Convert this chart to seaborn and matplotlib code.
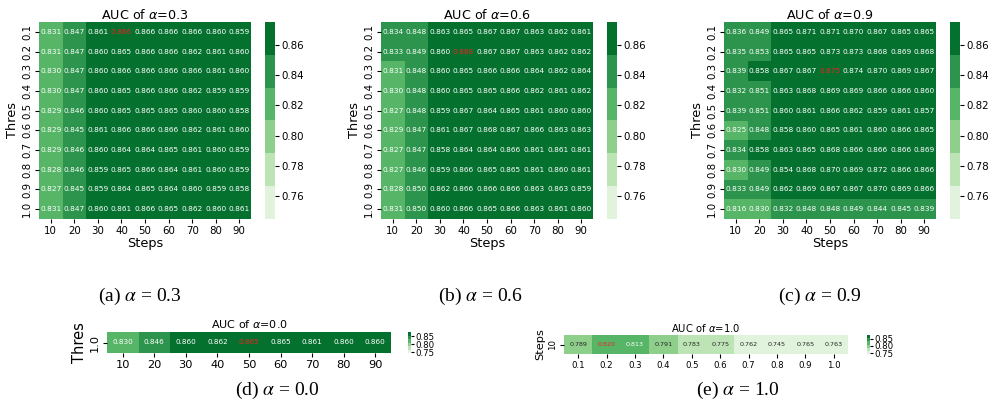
import numpy as np
import matplotlib
matplotlib.use("Agg")
import matplotlib.pyplot as plt
import seaborn as sns

# ---- data -------------------------------------------------------------
steps = [10, 20, 30, 40, 50, 60, 70, 80, 90]
thres = ["0.1", "0.2", "0.3", "0.4", "0.5", "0.6", "0.7", "0.8", "0.9", "1.0"]

auc_a03 = [
    [0.831, 0.847, 0.861, 0.866, 0.866, 0.866, 0.866, 0.860, 0.859],
    [0.831, 0.847, 0.860, 0.865, 0.866, 0.866, 0.862, 0.861, 0.860],
    [0.830, 0.847, 0.860, 0.866, 0.866, 0.866, 0.866, 0.861, 0.860],
    [0.830, 0.847, 0.860, 0.865, 0.866, 0.866, 0.862, 0.859, 0.859],
    [0.829, 0.846, 0.860, 0.865, 0.865, 0.865, 0.860, 0.860, 0.858],
    [0.829, 0.845, 0.861, 0.866, 0.866, 0.866, 0.862, 0.861, 0.860],
    [0.829, 0.846, 0.860, 0.864, 0.864, 0.865, 0.861, 0.860, 0.859],
    [0.828, 0.846, 0.859, 0.865, 0.866, 0.864, 0.861, 0.860, 0.859],
    [0.827, 0.845, 0.859, 0.864, 0.865, 0.864, 0.860, 0.859, 0.858],
    [0.831, 0.847, 0.860, 0.861, 0.866, 0.865, 0.862, 0.860, 0.861],
]

auc_a06 = [
    [0.834, 0.848, 0.863, 0.865, 0.867, 0.867, 0.863, 0.862, 0.861],
    [0.833, 0.849, 0.860, 0.868, 0.867, 0.867, 0.863, 0.862, 0.862],
    [0.831, 0.848, 0.860, 0.865, 0.866, 0.866, 0.864, 0.862, 0.864],
    [0.830, 0.848, 0.860, 0.865, 0.865, 0.866, 0.862, 0.861, 0.862],
    [0.827, 0.848, 0.859, 0.867, 0.864, 0.865, 0.861, 0.860, 0.860],
    [0.829, 0.847, 0.861, 0.867, 0.868, 0.867, 0.866, 0.863, 0.863],
    [0.827, 0.847, 0.858, 0.864, 0.864, 0.866, 0.861, 0.861, 0.861],
    [0.827, 0.846, 0.859, 0.866, 0.865, 0.865, 0.861, 0.860, 0.861],
    [0.828, 0.850, 0.862, 0.866, 0.866, 0.866, 0.863, 0.863, 0.859],
    [0.831, 0.850, 0.860, 0.866, 0.865, 0.866, 0.863, 0.861, 0.860],
]

auc_a09 = [
    [0.836, 0.849, 0.865, 0.871, 0.871, 0.870, 0.867, 0.865, 0.865],
    [0.835, 0.853, 0.865, 0.865, 0.873, 0.873, 0.868, 0.869, 0.868],
    [0.839, 0.858, 0.867, 0.867, 0.875, 0.874, 0.870, 0.869, 0.867],
    [0.832, 0.851, 0.863, 0.868, 0.869, 0.869, 0.866, 0.866, 0.860],
    [0.839, 0.851, 0.860, 0.861, 0.866, 0.862, 0.859, 0.861, 0.857],
    [0.825, 0.848, 0.858, 0.860, 0.865, 0.861, 0.860, 0.866, 0.865],
    [0.834, 0.858, 0.863, 0.865, 0.868, 0.866, 0.866, 0.866, 0.869],
    [0.830, 0.849, 0.854, 0.868, 0.870, 0.869, 0.872, 0.866, 0.866],
    [0.833, 0.849, 0.862, 0.869, 0.867, 0.867, 0.870, 0.869, 0.866],
    [0.816, 0.830, 0.832, 0.848, 0.848, 0.849, 0.844, 0.845, 0.839],
]

auc_a00 = [[0.830, 0.846, 0.860, 0.862, 0.865, 0.865, 0.861, 0.860, 0.860]]
thres_a00 = ["1.0"]

thres_a10 = ["0.1", "0.2", "0.3", "0.4", "0.5", "0.6", "0.7", "0.8", "0.9", "1.0"]
auc_a10 = [[0.789, 0.820, 0.813, 0.791, 0.783, 0.775, 0.762, 0.745, 0.765, 0.763]]
steps_a10 = ["10"]

# ---- shared colour scale ---------------------------------------------
all_vals = np.concatenate([np.ravel(m) for m in
                           (auc_a03, auc_a06, auc_a09, auc_a00, auc_a10)])
VMIN, VMAX = all_vals.min(), all_vals.max()
cmap = matplotlib.colors.ListedColormap(sns.color_palette("Greens", 6))
BEST = "#ee2222"

W, H = 995, 403
fig = plt.figure(figsize=(W / 100, H / 100), dpi=100)


def box(x0, y0, x1, y1):
    return [x0 / W, 1 - y1 / H, (x1 - x0) / W, (y1 - y0) / H]


def panel(hm_box, cb_box, data, xt, yt, title, title_fs, title_pad, annot_fs,
          tick_fs, label_fs, xlabel, ylabel, cb_ticks, cb_fs, cb_len):
    ax = fig.add_axes(box(*hm_box))
    cax = fig.add_axes(box(*cb_box))
    arr = np.asarray(data)
    sns.heatmap(arr, ax=ax, cbar_ax=cax, cmap=cmap, vmin=VMIN, vmax=VMAX,
                annot=True, fmt=".3f", annot_kws={"size": annot_fs},
                xticklabels=xt, yticklabels=yt)
    ax.texts[int(np.argmax(arr))].set_color(BEST)
    ax.set_title(title, fontsize=title_fs, pad=title_pad)
    ax.tick_params(labelsize=tick_fs, length=3, pad=2)
    plt.setp(ax.get_yticklabels(), rotation=90, va="center")
    plt.setp(ax.get_xticklabels(), rotation=0)
    if xlabel:
        ax.set_xlabel(xlabel, fontsize=label_fs, labelpad=1)
    if ylabel:
        ax.set_ylabel(ylabel, fontsize=label_fs, labelpad=2)
    cb = ax.collections[0].colorbar
    cb.set_ticks(cb_ticks)
    cb.ax.tick_params(labelsize=cb_fs, length=cb_len, pad=1.5)
    return ax


big_ticks = [0.76, 0.78, 0.80, 0.82, 0.84, 0.86]
small_ticks = [0.75, 0.80, 0.85]

for x0, data, a in ((39, auc_a03, "0.3"), (381, auc_a06, "0.6"),
                    (724, auc_a09, "0.9")):
    panel((x0, 22, x0 + 212, 219), (x0 + 226, 22, x0 + 236, 219),
          data, steps, thres, f"AUC of $\\alpha$={a}", 9.2, 2.5, 5.3,
          7.4, 9.3, "Steps", "Thres", big_ticks, 7.4, 3)

panel((107, 332, 391, 353), (408, 332, 411, 353), auc_a00, steps, thres_a00,
      "AUC of $\\alpha$=0.0", 8.0, 3, 5.2, 8.2, 10.5, None, "Thres",
      small_ticks, 6.2, 2)

panel((564, 335, 848, 354), (867, 335, 870, 354), auc_a10, thres_a10,
      steps_a10, "AUC of $\\alpha$=1.0", 7.2, 2.5, 4.6, 6.2, 8.2, None,
      "Steps", small_ticks, 6.2, 2)

captions = [(140, 296, "(a) $\\alpha$ = 0.3"), (480, 296, "(b) $\\alpha$ = 0.6"),
            (820, 296, "(c) $\\alpha$ = 0.9"), (277, 390, "(d) $\\alpha$ = 0.0"),
            (738, 390, "(e) $\\alpha$ = 1.0")]
for cx, cy, txt in captions:
    fig.text(cx / W, 1 - cy / H, txt, ha="center", va="center", fontsize=14,
             family="Liberation Serif", math_fontfamily="stix")

fig.savefig("out.png", dpi=100)
